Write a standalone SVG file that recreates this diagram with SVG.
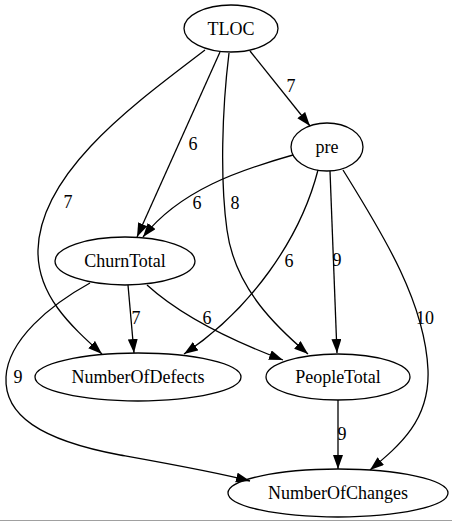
<svg xmlns="http://www.w3.org/2000/svg" width="452" height="523" viewBox="0 0 452 523">
<style>
.node ellipse{fill:none;stroke:#000;stroke-width:1.3}
.node text{font-family:"Liberation Serif","Times New Roman",serif;font-size:18px;text-anchor:middle;fill:#000}
.edges path{fill:none;stroke:#000;stroke-width:1.3;marker-end:url(#arr)}
.edges text{font-family:"Liberation Serif","Times New Roman",serif;font-size:18px;text-anchor:middle;fill:#000}
</style>
<defs>
<marker id="arr" markerUnits="userSpaceOnUse" markerWidth="15" markerHeight="11" refX="14" refY="5" orient="auto">
<path d="M0,0 L14,5 L0,10 z" fill="#000"/>
</marker>
</defs>
<rect width="452" height="523" fill="#fff"/>
<line x1="0" y1="520.5" x2="452" y2="520.5" stroke="#a0a0a0" stroke-width="1"/>
<g class="edges">
<path d="M250,51 L310,126"/>
<text x="291" y="92">7</text>
<path d="M220,52 L137,237"/>
<text x="193" y="150">6</text>
<path d="M205,50 C140,100 40,170 38,250 C37,295 70,325 102,354"/>
<text x="68" y="208">7</text>
<path d="M229,53 C222,110 220,180 227,230 C235,290 280,330 308,354"/>
<text x="235" y="209">8</text>
<path d="M293,155 C240,170 180,190 143,237"/>
<text x="197" y="209">6</text>
<path d="M318,170 C300,240 250,310 184,354"/>
<text x="289" y="267">6</text>
<path d="M330,171 L337,353"/>
<text x="337" y="266">9</text>
<path d="M343,170 C380,230 425,300 428,370 C430,420 400,445 370,470"/>
<text x="425" y="324">10</text>
<path d="M128,285 L134,353"/>
<text x="136" y="324">7</text>
<path d="M147,285 C180,315 230,340 283,360"/>
<text x="207" y="324">6</text>
<path d="M90,283 C50,305 8,340 6,377 C4,415 40,440 120,455 C170,464 215,472 250,481"/>
<text x="18" y="383">9</text>
<path d="M338,400 L338,469"/>
<text x="342" y="440">9</text>
</g>
<g id="TLOC" class="node"><ellipse cx="231" cy="28.5" rx="47" ry="23.5"/><text x="231" y="35">TLOC</text></g>
<g id="pre" class="node"><ellipse cx="327" cy="147" rx="36" ry="24"/><text x="327" y="153">pre</text></g>
<g id="ChurnTotal" class="node"><ellipse cx="125" cy="261" rx="70" ry="24"/><text x="125" y="267">ChurnTotal</text></g>
<g id="NumberOfDefects" class="node"><ellipse cx="138" cy="377" rx="103" ry="24"/><text x="138" y="383">NumberOfDefects</text></g>
<g id="PeopleTotal" class="node"><ellipse cx="338" cy="377" rx="72" ry="23"/><text x="338" y="383">PeopleTotal</text></g>
<g id="NumberOfChanges" class="node"><ellipse cx="338" cy="493" rx="110" ry="24"/><text x="338" y="499">NumberOfChanges</text></g>
</svg>
